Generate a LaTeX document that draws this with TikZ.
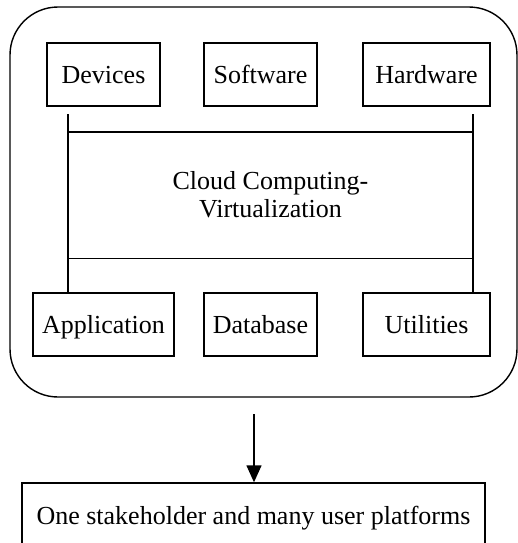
\documentclass[tikz,border=0pt]{standalone}
\usepackage{fontspec}
\setmainfont{Liberation Serif}
\usetikzlibrary{arrows.meta}
\begin{document}
\begin{tikzpicture}[x=0.5pt,y=-0.5pt,line width=0.7pt,
    font=\fontsize{13}{14}\selectfont,
    item/.style={draw=black,minimum height=31.5pt,inner sep=0pt,text height=11pt,text depth=2pt}]
\clip (0,0) rectangle (518,543);
% outer frame
\node[draw=black,rounded corners=24pt,minimum width=253.5pt,minimum height=195pt] (cloud) at (263.5,202) {};

% resources
\node[item,minimum width=56.5pt] (dev) at (103.5,74.5) {Devices};
\node[item,minimum width=56.5pt] (soft) at (260.5,74.5) {Software};
\node[item,minimum width=63.5pt] (hard) at (426.5,74.5) {Hardware};
\node[item,minimum width=70.5pt] (app) at (103.5,324.5) {Application};
\node[item,minimum width=56.5pt] (db) at (260.5,324.5) {Database};
\node[item,minimum width=63.5pt] (util) at (426.5,324.5) {Utilities};

% virtualization layer
\node[minimum width=202.5pt,minimum height=62.5pt,align=center] (virt) at (270.5,195) {Cloud Computing-\\Virtualization};
\draw (virt.north west) -- (virt.north east);
\draw (virt.south west) -- (virt.south east);
\coordinate (tl) at (68,114);
\coordinate (tr) at (473,114);
\draw (tl) -- (tl |- app.north);
\draw (tr) -- (tr |- util.north);

% result
\node[item,minimum width=231.5pt,minimum height=32.5pt] (out) at (253.5,515.5) {One stakeholder and many user platforms};
\coordinate (src) at (254,414);
\draw[-{Triangle[length=8.5pt,width=7.5pt]}] (src) -- (src |- out.north);
\end{tikzpicture}
\end{document}
